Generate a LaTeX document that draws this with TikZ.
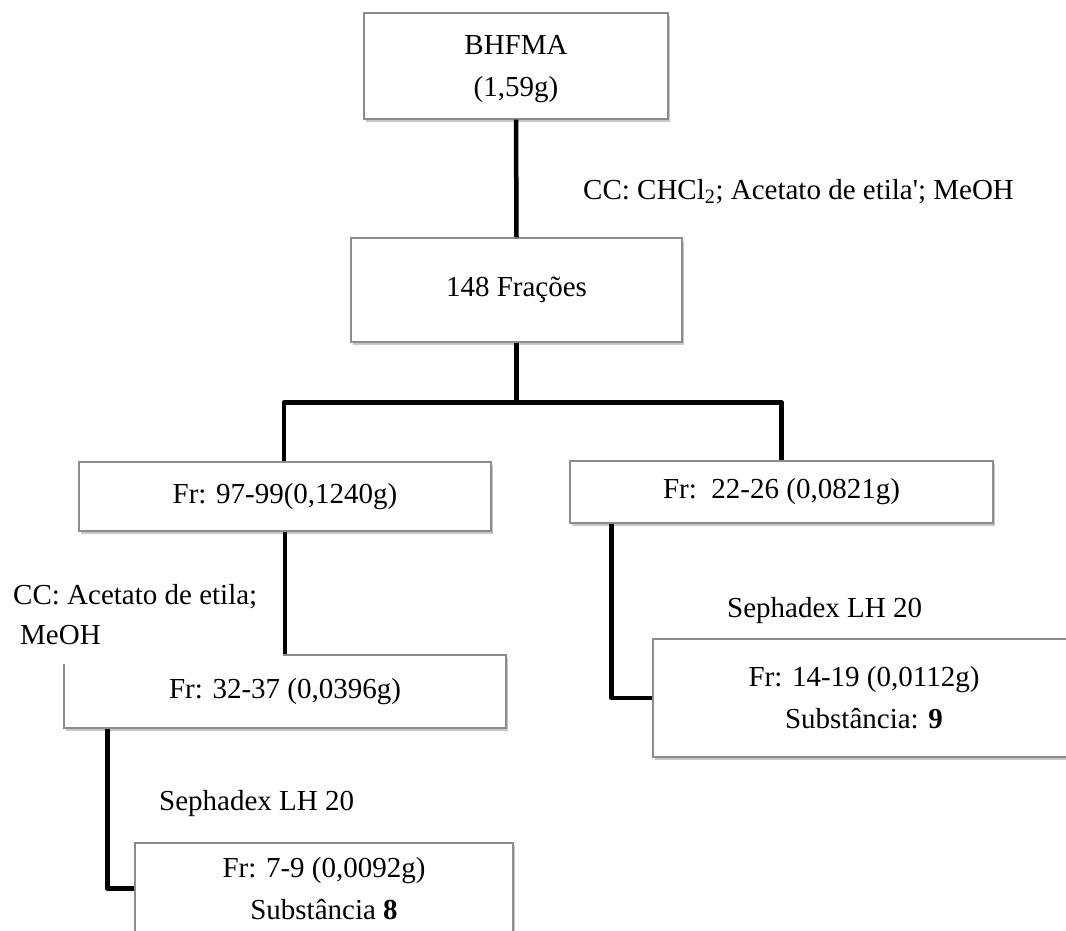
\documentclass[tikz,border=0pt]{standalone}
\usepackage{fontspec}
\setmainfont{Liberation Serif}
\usetikzlibrary{shadows}
\tikzset{
  fbox/.style={draw=black!45, line width=1.1pt, fill=white, rectangle, inner sep=0pt,
    align=center, font=\fontsize{29}{42}\selectfont,
    drop shadow={shadow xshift=1.5pt, shadow yshift=-3pt, fill=black, opacity=0.22}},
  conn/.style={line width=4.5pt, line join=round, line cap=butt, black},
  thinconn/.style={line width=3.3pt, black},
  lbl/.style={font=\fontsize{29}{42}\selectfont, inner sep=0pt}
}
\begin{document}
\begin{tikzpicture}[x=1pt,y=-1pt]
\useasboundingbox (0,0) rectangle (1066,930);
% boxes
\node[fbox, minimum width=304pt, minimum height=106pt] (b1) at (516,66) {\rule{0pt}{26pt}BHFMA\\(1,59g)};
\node[fbox, minimum width=331pt, minimum height=104pt] (b2) at (516.5,290) {148 Frações};
\node[fbox, minimum width=412pt, minimum height=69pt] (b3) at (285,496.5) {Fr: 97-99(0,1240g)};
\node[fbox, minimum width=423pt, minimum height=62pt] (b4) at (781.5,492) {Fr:\ \ 22-26 (0,0821g)};
\node[fbox, minimum width=442pt, minimum height=73pt] (b5) at (285,691.5) {Fr: 32-37 (0,0396g)};
\node[fbox, minimum width=422pt, minimum height=118pt] (b6) at (864,698) {Fr: 14-19 (0,0112g)\\Substância: \textbf{9}};
\node[fbox, minimum width=378pt, minimum height=91pt] (b7) at (324,888.5) {Fr: 7-9 (0,0092g)\\Substância \textbf{8}};
% connectors
\draw[conn] (b1.south) -- (b2.north);
\draw[conn] (b2.south) -- ++(0,60) coordinate (j);
\draw[conn] ([xshift=-1pt]b3.north) |- (j) -| (b4.north);
\draw[thinconn] (b3.south) -- (b5.north);
\draw[conn] ([xshift=42pt]b4.south west) |- (b6.west);
\draw[conn] ([xshift=44pt]b5.south west) |- (b7.west);
% labels
\node[lbl, anchor=base west] (l1) at (583,199) {CC: CHCl\textsubscript{2}; Acetato de etila\textquotesingle; MeOH};
\node[lbl, anchor=north west, fill=white, text width=257pt, align=left, inner xsep=13pt, inner ysep=19pt] (l2) at (0,565)
  {\spaceskip=0pt\xspaceskip=0pt CC: Acetato de etila;\\[-2pt]\hspace*{7pt}MeOH};
\node[lbl, anchor=base west] (l3) at (727,617) {Sephadex LH 20};
\node[lbl, anchor=base west] (l4) at (159,810) {Sephadex LH 20};
\end{tikzpicture}
\end{document}
